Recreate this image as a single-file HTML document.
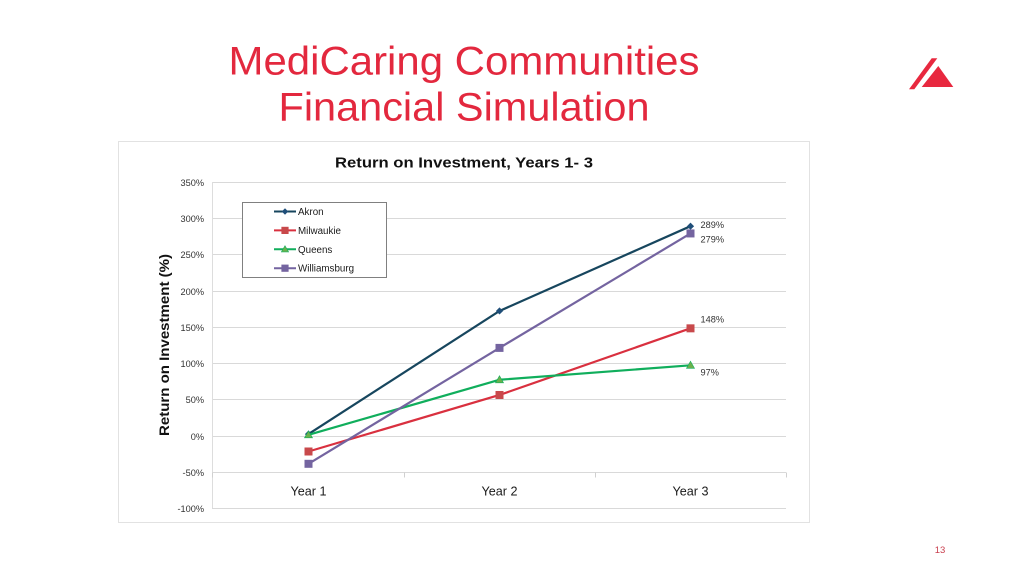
<!DOCTYPE html>
<html lang="en">
<head>
<meta charset="utf-8">
<title>MediCaring Communities Financial Simulation</title>
<style>
html,body{margin:0;padding:0;background:#fff;}
body{width:1024px;height:576px;overflow:hidden;}
svg{display:block;}
text{font-family:"Liberation Sans",sans-serif;}
</style>
</head>
<body>
<svg id="slide" width="1024" height="576" viewBox="0 0 1024 576" xmlns="http://www.w3.org/2000/svg">
  <rect x="0" y="0" width="1024" height="576" fill="#ffffff"/>
  <text x="464" y="74.5" text-anchor="middle" font-size="40" fill="#e3283e" textLength="471" lengthAdjust="spacingAndGlyphs">MediCaring Communities</text>
  <text x="464" y="120.5" text-anchor="middle" font-size="40" fill="#e3283e" textLength="371" lengthAdjust="spacingAndGlyphs">Financial Simulation</text>
  <g fill="#e8283f">
    <polygon points="931.7,58.3 937.3,58.3 914.3,89.3 909,89.3"/>
    <polygon points="938.3,66 953.3,87 921.7,87"/>
  </g>
  <rect x="118.5" y="141.5" width="691" height="381" fill="#ffffff" stroke="#e2e2e2" stroke-width="1"/>
  <text x="464" y="167.5" text-anchor="middle" font-size="15" font-weight="bold" fill="#111111" textLength="258" lengthAdjust="spacingAndGlyphs">Return on Investment, Years 1- 3</text>
  <text transform="translate(169,345) rotate(-90)" text-anchor="middle" font-size="14" font-weight="bold" fill="#111111" textLength="182" lengthAdjust="spacingAndGlyphs">Return on Investment (%)</text>
  <g id="grid"></g>
  <g id="axes"></g>
  <g id="series"></g>
  <g id="legend"></g>
  <text x="940" y="553" text-anchor="middle" font-size="9.5" fill="#c9404f">13</text>
</svg>
<script>
const categories = ["Year 1", "Year 2", "Year 3"];
const yTicks = [350, 300, 250, 200, 150, 100, 50, 0, -50, -100];
const seriesNames = ["Akron", "Milwaukie", "Queens", "Williamsburg"];
const akronValues = [2, 172, 289];
const milwaukieValues = [-22, 56, 148];
const queensValues = [1, 77, 97];
const williamsburgValues = [-39, 121, 279];
const endLabels = ["289%", "148%", "97%", "279%"];

const NS = "http://www.w3.org/2000/svg";
const plot = {left: 213, right: 786, top: 182, bottom: 508, yMax: 350, yMin: -100, crossAt: -50};
const styles = [
  {line: "#17465e", fill: "#1f4e79", marker: "diamond", labelDx: 10, labelDy: 2},
  {line: "#d9303f", fill: "#c8494b", marker: "square", labelDx: 10, labelDy: -6},
  {line: "#10ae5c", fill: "#6ab04c", marker: "triangle", labelDx: 10, labelDy: 10},
  {line: "#7464a0", fill: "#7464a0", marker: "square", labelDx: 10, labelDy: 9}
];
const allValues = [akronValues, milwaukieValues, queensValues, williamsburgValues];

function xScale(i) {
  return plot.left + (i + 0.5) * (plot.right - plot.left) / categories.length;
}
function yScale(v) {
  return plot.bottom - (v - plot.yMin) * (plot.bottom - plot.top) / (plot.yMax - plot.yMin);
}
function make(tag, attrs, parent) {
  const el = document.createElementNS(NS, tag);
  for (const k in attrs) el.setAttribute(k, attrs[k]);
  parent.appendChild(el);
  return el;
}
function drawMarker(kind, x, y, fill, size, parent) {
  let el;
  if (kind === "diamond") {
    el = make("polygon", {points: (x - size) + "," + y + " " + x + "," + (y - size) + " " + (x + size) + "," + y + " " + x + "," + (y + size), fill: fill}, parent);
  } else if (kind === "triangle") {
    el = make("polygon", {points: (x - size) + "," + (y + size - 1) + " " + x + "," + (y - size) + " " + (x + size) + "," + (y + size - 1), fill: fill, stroke: "#10ae5c", "stroke-width": 0.6}, parent);
  } else {
    el = make("rect", {x: x - size, y: y - size, width: size * 2, height: size * 2, fill: fill}, parent);
  }
  return el;
}

const grid = document.getElementById("grid");
const axes = document.getElementById("axes");
const seriesGroup = document.getElementById("series");
const legend = document.getElementById("legend");

yTicks.forEach(function (t) {
  const y = Math.round(yScale(t)) + 0.5;
  const line = make("line", {x1: plot.left - 1, x2: plot.right, y1: y, y2: y, stroke: "#d9d9d9", "stroke-width": 1}, grid);
  
  
  const label = make("text", {x: 204, y: y + 3.3, "text-anchor": "end", "font-size": 9.2, fill: "#333333"}, axes);
  label.textContent = t + "%";
  
  
});

const yAxisLine = make("line", {x1: plot.left - 0.5, x2: plot.left - 0.5, y1: plot.top, y2: plot.bottom, stroke: "#dddddd", "stroke-width": 1}, axes);



const axisY = Math.round(yScale(plot.crossAt)) + 0.5;
for (let i = 0; i <= categories.length; i++) {
  const tx = Math.round(plot.left + i * (plot.right - plot.left) / categories.length) - 0.5 + (i === 0 ? 0 : 1);
  const tick = make("line", {x1: tx, x2: tx, y1: axisY, y2: axisY + 5, stroke: "#d0d0d0", "stroke-width": 1}, axes);
  
  
}
categories.forEach(function (c, i) {
  const label = make("text", {x: xScale(i), y: 495.5, "text-anchor": "middle", "font-size": 12.6, fill: "#1a1a1a"}, axes);
  label.textContent = c;
  
  
});

allValues.forEach(function (vals, s) {
  const st = styles[s];
  const g = make("g", {}, seriesGroup);
  
  
  const pts = vals.map(function (v, i) { return xScale(i) + "," + yScale(v); }).join(" ");
  const line = make("polyline", {points: pts, fill: "none", stroke: st.line, "stroke-width": 2.2}, g);
  
  
  vals.forEach(function (v, i) {
    const m = drawMarker(st.marker, xScale(i), yScale(v), st.fill, st.marker === "diamond" ? 3.6 : 4, g);
    
    
  });
  const last = vals.length - 1;
  const lab = make("text", {x: xScale(last) + st.labelDx, y: yScale(vals[last]) + st.labelDy, "font-size": 9.2, fill: "#333333"}, g);
  lab.textContent = endLabels[s];
  
  
});

const box = make("rect", {x: 242.5, y: 202.5, width: 144, height: 75, fill: "#ffffff", stroke: "#808080", "stroke-width": 1}, legend);


seriesNames.forEach(function (n, s) {
  const st = styles[s];
  const y = 211.5 + s * 18.9;
  const entry = make("g", {}, legend);
  
  
  make("line", {x1: 274, x2: 296, y1: y, y2: y, stroke: st.line, "stroke-width": 2}, entry);
  drawMarker(st.marker, 285, y, st.fill, st.marker === "diamond" ? 3.2 : 3.6, entry);
  const t = make("text", {x: 298, y: y + 3.5, "font-size": 9.8, fill: "#1a1a1a"}, entry);
  t.textContent = n;
});
</script>
</body>
</html>
